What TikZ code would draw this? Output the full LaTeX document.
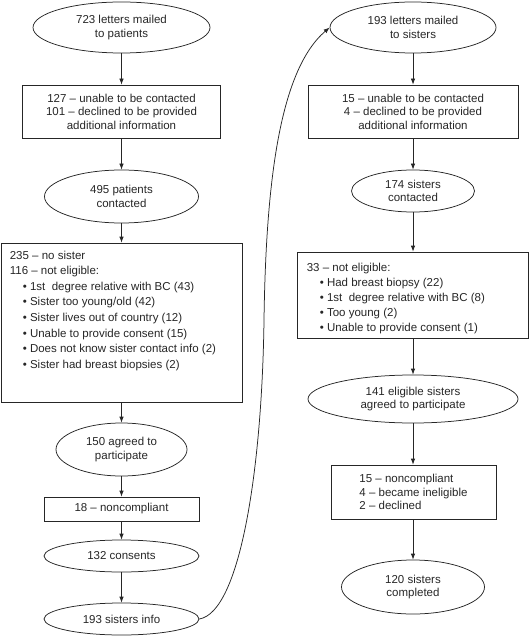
\documentclass[tikz,border=0pt]{standalone}
\usepackage{fontspec}
\setmainfont{Liberation Sans}
\usetikzlibrary{shapes.geometric,arrows.meta}
\begin{document}
\begin{tikzpicture}[x=1pt,y=-1pt,
  every node/.style={font=\fontsize{11.5}{13.6}\selectfont, text=black!85},
  ell/.style={draw=black!85, ellipse, inner sep=0pt, align=center, line width=0.75pt},
  box/.style={draw=black!85, rectangle, inner sep=0pt, align=center, line width=0.75pt},
  listtext/.style={anchor=north west, inner sep=0pt, align=left},
  arr/.style={draw=black!85, line width=0.75pt, -{Latex[length=6pt,width=4.5pt]}}]
\useasboundingbox (0,0) rectangle (529,636);
% left column
\node[ell, minimum width=177pt, minimum height=51pt] (e1) at (121.5,27.5) {723 letters mailed\\to patients};
\node[box, minimum width=198pt, minimum height=53pt] (b1) at (121.5,111.5) {127 – unable to be contacted\\101 – declined to be provided\\additional information};
\node[ell, minimum width=154pt, minimum height=53pt] (e2) at (121.5,196.5) {495 patients\\contacted};
\node[box, minimum width=241pt, minimum height=159pt] (b2) at (121.5,322.5) {};
\node[listtext, font=\fontsize{11.5}{15.6}\selectfont] (b2t) at ([shift={(9pt,-8pt)}]b2.north west) {235 – no sister\\
116 – not eligible:\\
\hspace*{13pt}•\ 1st\ \ degree relative with BC (43)\\
\hspace*{13pt}•\ Sister too young/old (42)\\
\hspace*{13pt}•\ Sister lives out of country (12)\\
\hspace*{13pt}•\ Unable to provide consent (15)\\
\hspace*{13pt}•\ Does not know sister contact info (2)\\
\hspace*{13pt}•\ Sister had breast biopsies (2)};
\node[ell, minimum width=131pt, minimum height=53pt] (e3) at (121.5,449.5) {150 agreed to\\participate};
\node[box, minimum width=155pt, minimum height=24pt] (b3) at (121.5,509) {18 – noncompliant};
\node[ell, minimum width=155pt, minimum height=32pt] (e4) at (121.5,556) {132 consents};
\node[ell, minimum width=155pt, minimum height=32pt] (e5) at (121.5,619) {193 sisters info};
% right column
\node[ell, minimum width=166pt, minimum height=51pt] (r1) at (413,27.5) {193 letters mailed\\to sisters};
\node[box, minimum width=210pt, minimum height=53pt] (rb1) at (413,111.5) {15 – unable to be contacted\\4 – declined to be provided\\additional information};
\node[ell, minimum width=123pt, minimum height=42pt] (r2) at (413,191) {174 sisters\\contacted};
\node[box, minimum width=231pt, minimum height=86pt] (rb2) at (412.5,295) {};
\node[listtext, font=\fontsize{11.5}{15}\selectfont] (rb2t) at ([shift={(10pt,-11pt)}]rb2.north west) {33 – not eligible:\\
\hspace*{13pt}•\ Had breast biopsy (22)\\
\hspace*{13pt}•\ 1st\ \ degree relative with BC (8)\\
\hspace*{13pt}•\ Too young (2)\\
\hspace*{13pt}•\ Unable to provide consent (1)};
\node[ell, minimum width=210pt, minimum height=48pt] (r3) at (413,399) {141 eligible sisters\\agreed to participate};
\node[box, minimum width=165pt, minimum height=54pt, align=left] (rb4) at (413.5,492) {15 – noncompliant\\4 – became ineligible\\2 – declined};
\node[ell, minimum width=143pt, minimum height=54pt] (r5) at (413,587) {120 sisters\\completed};
% connectors
\draw[arr] (e1) -- (b1);
\draw[arr] (b1) -- (e2);
\draw[arr] (e2) -- (b2);
\draw[arr] (b2) -- (e3);
\draw[arr] (e3) -- (b3);
\draw[arr] (b3) -- (e4);
\draw[arr] (e4) -- (e5);
\draw[arr] (r1) -- (rb1);
\draw[arr] (rb1) -- (r2);
\draw[arr] (r2.south) -- (r2.south |- rb2.north);
\draw[arr] (r2.south |- rb2.south) -- (r3.north);
\draw[arr] (r3.south) -- (r3.south |- rb4.north);
\draw[arr] (r3.south |- rb4.south) -- (r5.north);
\coordinate (mid) at (264,320);
\draw[arr] (e5.east) .. controls (240,612) and (262,470) .. (mid) .. controls (266,180) and (280,70) .. (r1.west);
\end{tikzpicture}
\end{document}
